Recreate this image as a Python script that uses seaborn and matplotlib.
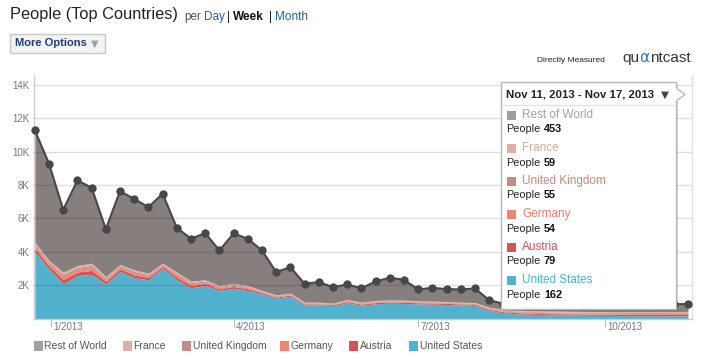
import numpy as np
import pandas as pd
import matplotlib.pyplot as plt
from matplotlib.patches import Rectangle, Polygon
from matplotlib.lines import Line2D
from matplotlib.transforms import ScaledTranslation
import seaborn as sns

# weekly data, week starting Monday
weeks = pd.date_range('2012-12-24', periods=47, freq='7D')

united_states = [4000, 2980, 2080, 2580, 2640, 2080, 2820, 2440, 2320, 3040, 2320, 1840, 1980, 1680,
                 1820, 1680, 1480, 1220, 1340, 820, 820, 780, 940, 800, 880, 920, 900, 880, 860, 840,
                 820, 780, 480, 340, 280, 250, 220, 210, 200, 190, 190, 180, 170, 170, 170, 160, 162]
austria = [200, 180, 250, 210, 240, 160, 150, 170, 140, 100, 160, 140, 120, 105, 100, 105, 70, 70,
           65, 55, 56, 50, 70, 63, 70, 72, 70, 64, 62, 64, 56, 63, 68, 68, 72, 72, 75, 76, 75, 76,
           76, 77, 78, 78, 78, 80, 79]
germany = [150, 130, 180, 160, 175, 110, 110, 125, 100, 70, 120, 100, 85, 75, 70, 75, 50, 50, 45,
           40, 40, 35, 50, 45, 50, 48, 50, 44, 46, 45, 40, 45, 48, 46, 50, 50, 52, 51, 52, 52, 51,
           52, 53, 53, 54, 55, 54]
united_kingdom = [110, 95, 130, 115, 130, 85, 80, 90, 80, 55, 90, 80, 65, 60, 55, 60, 40, 40, 35,
                  32, 32, 27, 40, 36, 40, 40, 40, 36, 36, 35, 32, 36, 42, 42, 48, 47, 50, 50, 51,
                  50, 51, 50, 53, 53, 52, 55, 55]
france = [120, 95, 140, 115, 135, 85, 80, 95, 80, 55, 90, 80, 70, 60, 55, 60, 40, 40, 35, 33, 32,
          28, 40, 36, 40, 40, 40, 36, 36, 36, 32, 36, 42, 44, 50, 51, 53, 53, 52, 52, 52, 51, 56,
          56, 56, 60, 59]
rest_of_world = [6700, 5800, 3740, 5100, 4520, 2840, 4400, 4240, 3960, 4160, 2660, 2540, 2800, 2100,
                 3000, 2800, 2400, 1360, 1560, 1100, 1200, 960, 900, 830, 1140, 1320, 1220, 680,
                 800, 740, 760, 840, 420, 340, 360, 380, 380, 400, 430, 430, 410, 430, 450, 440,
                 470, 450, 453]

stack_names = ['United States', 'Austria', 'Germany', 'United Kingdom', 'France', 'Rest of World']
stack_values = [united_states, austria, germany, united_kingdom, france, rest_of_world]
area_colors = ['#52b1cc', '#d4525a', '#ef8770', '#c08c85', '#dcb0a4', '#877f7e']
swatch_colors = {'Rest of World': '#a49e9e', 'France': '#dcb0a4', 'United Kingdom': '#c08c85',
                 'Germany': '#ef8770', 'Austria': '#d4525a', 'United States': '#52b1cc'}
label_colors = {'Rest of World': '#a3a3a3', 'France': '#dba99c', 'United Kingdom': '#c4877f',
                'Germany': '#ee7f69', 'Austria': '#cf4f5a', 'United States': '#4eb0cc'}
legend_order = ['Rest of World', 'France', 'United Kingdom', 'Germany', 'Austria', 'United States']

y_ticks = [2000, 4000, 6000, 8000, 10000, 12000, 14000]
y_tick_labels = ['2K', '4K', '6K', '8K', '10K', '12K', '14K']
x_ticks = pd.to_datetime(['2013-01-01', '2013-04-01', '2013-07-01', '2013-10-01'])
x_tick_labels = ['1/2013', '4/2013', '7/2013', '10/2013']
tooltip_title = 'Nov 11, 2013 - Nov 17, 2013'

sns.set_theme(style='white')
plt.rcParams['font.family'] = ['Liberation Sans', 'DejaVu Sans']

W, H = 710, 359
fig = plt.figure(figsize=(W / 100, H / 100), dpi=100)


def fx(px):
    return px / W


def fy(py):
    return 1 - py / H


ax = fig.add_axes([fx(34), fy(318.5), 658 / W, 243.5 / H])
ax.stackplot(weeks, *stack_values, colors=area_colors, linewidth=0, zorder=1)

total = np.sum(np.array(stack_values), axis=0)
sns.lineplot(x=weeks, y=total, ax=ax, color='#474747', linewidth=1.5, marker='o',
             markersize=6, markeredgewidth=0, clip_on=False, zorder=5)

for yv in y_ticks:
    ax.axhline(yv, color=(0, 0, 0, 0.13), linewidth=1, zorder=3)

ax.set_ylim(0, 14600)
ax.set_xlim(weeks[0] - pd.Timedelta(hours=10), pd.Timestamp('2013-11-13'))
ax.set_yticks(y_ticks, y_tick_labels)
ax.set_xticks(x_ticks, x_tick_labels)
ax.set_xlabel('')
ax.set_ylabel('')
ax.tick_params(axis='y', length=0, pad=3, labelsize=7, labelcolor='#777')
ax.tick_params(axis='x', length=6, width=0.8, color='#bbbbbb', direction='out',
               labelsize=7, labelcolor='#777', pad=-3.5, bottom=True)
for lbl in ax.get_xticklabels():
    lbl.set_horizontalalignment('left')
    lbl.set_transform(lbl.get_transform() + ScaledTranslation(1.5 / 72, 0, fig.dpi_scale_trans))

ax.spines['top'].set_visible(False)
ax.spines['left'].set_color('#d0d0d0')
ax.spines['right'].set_color('#e2e2e2')
ax.spines['bottom'].set_color('#cccccc')
for s in ax.spines.values():
    s.set_linewidth(1)

# header
fig.text(fx(10), fy(15), 'People (Top Countries)', fontsize=11.8, color='#222', va='center')
fig.text(fx(184), fy(17), 'per', fontsize=8.5, color='#555', va='center')
fig.text(fx(204), fy(17), 'Day', fontsize=8.5, color='#2a5d9f', va='center')
fig.text(fx(227.5), fy(17), '|', fontsize=8.5, color='#222', va='center')
fig.text(fx(233), fy(17), 'Week', fontsize=8.5, color='#111', va='center', fontweight='bold')
fig.text(fx(268.5), fy(17), '|', fontsize=8.5, color='#222', va='center')
fig.text(fx(275), fy(17), 'Month', fontsize=8.5, color='#2a5d9f', va='center')

# more options button
fig.patches.append(Rectangle((fx(10), fy(53)), 95 / W, 19 / H, transform=fig.transFigure,
                             facecolor='#f2f2f2', edgecolor='#c8c8c8', linewidth=1))
fig.text(fx(15), fy(43.5), 'More Options', fontsize=8, color='#1f3f73', va='center',
         fontweight='bold')
fig.text(fx(91), fy(44), '▼', fontsize=7, color='#a0a0a0', va='center',
         family=['DejaVu Sans'])

# quantcast label
fig.text(fx(537), fy(60), 'Directly Measured', fontsize=6, color='#222', va='center')
fig.text(fx(622), fy(58), 'qu', fontsize=11, color='#333', va='center')
fig.text(fx(639.5), fy(58), 'α', fontsize=11, color='#2d7ac0', va='center',
         family=['DejaVu Sans'])
fig.text(fx(650), fy(58), 'ntcast', fontsize=11, color='#333', va='center')

# tooltip
bx0, bx1, by0, by1 = 501, 676, 82, 309
fig.patches.append(Rectangle((fx(bx0 + 2), fy(by1 + 2)), (bx1 - bx0) / W, (by1 - by0) / H,
                             transform=fig.transFigure, facecolor=(0, 0, 0, 0.15),
                             edgecolor='none', zorder=4))
fig.patches.append(Rectangle((fx(bx0), fy(by1)), (bx1 - bx0) / W, (by1 - by0) / H,
                             transform=fig.transFigure, facecolor='white',
                             edgecolor='#b8b8b8', linewidth=1, zorder=5))
fig.patches.append(Polygon([(fx(bx1), fy(88)), (fx(bx1 + 9), fy(94.5)), (fx(bx1), fy(101))],
                           closed=False, transform=fig.transFigure, facecolor='white',
                           edgecolor='#b8b8b8', linewidth=1, zorder=6))
fig.lines.append(Line2D([fx(bx1), fx(bx1)], [fy(89), fy(100)], transform=fig.transFigure,
                        color='white', linewidth=1.5, zorder=7))
fig.lines.append(Line2D([fx(bx0 + 1), fx(bx1 - 1)], [fy(105), fy(105)], transform=fig.transFigure,
                        color='#e4e4e4', linewidth=1, zorder=7))
fig.text(fx(506), fy(94.5), tooltip_title, fontsize=8.2, color='#222', va='center',
         fontweight='bold', zorder=8)
fig.text(fx(661), fy(94.5), '▼', fontsize=7.5, color='#444', va='center',
         family=['DejaVu Sans'], zorder=8)

tooltip_values = {name: vals[-1] for name, vals in zip(stack_names, stack_values)}
for k, name in enumerate(legend_order):
    yc = 115 + 33 * k
    fig.patches.append(Rectangle((fx(507), fy(yc + 4.5)), 9 / W, 9 / H, transform=fig.transFigure,
                                 facecolor=swatch_colors[name], edgecolor='none', zorder=8))
    fig.text(fx(522), fy(yc), name, fontsize=8.5, color=label_colors[name], va='center', zorder=8)
    fig.text(fx(506), fy(yc + 14.5), 'People', fontsize=7.8, color='#222', va='center', zorder=8)
    fig.text(fx(544), fy(yc + 14.5), str(tooltip_values[name]), fontsize=7.8, color='#111',
             va='center', fontweight='bold', zorder=8)

# bottom legend
legend_swatch_x = [34, 123, 182, 280, 349, 409]
for sx, name in zip(legend_swatch_x, legend_order):
    fig.patches.append(Rectangle((fx(sx), fy(351)), 9 / W, 10 / H, transform=fig.transFigure,
                                 facecolor=swatch_colors[name], edgecolor='none'))
    fig.text(fx(sx + 10.5), fy(346), name, fontsize=7.5, color='#555', va='center')

fig.savefig('out.png', dpi=100)
